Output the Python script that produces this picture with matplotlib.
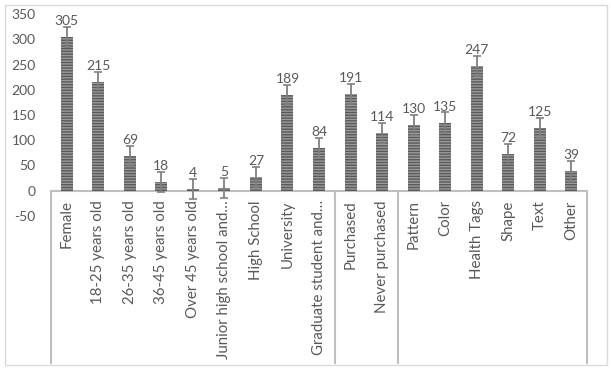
import matplotlib
matplotlib.use("Agg")
import matplotlib.pyplot as plt
import matplotlib.transforms as mtransforms
from matplotlib.patches import Rectangle

categories = ["Female", "18-25 years old", "26-35 years old", "36-45 years old",
              "Over 45 years old", "Junior high school and…", "High School",
              "University", "Graduate student and…", "Purchased", "Never purchased",
              "Pattern", "Color", "Health Tags", "Shape", "Text", "Other"]
values = [305, 215, 69, 18, 4, 5, 27, 189, 84, 191, 114, 130, 135, 247, 72, 125, 39]
errors = [20] * len(values)
group_sizes = [9, 2, 6]
yticks = [-50, 0, 50, 100, 150, 200, 250, 300, 350]

plt.rcParams['font.family'] = ['Lato', 'DejaVu Sans']
plt.rcParams['hatch.linewidth'] = 1.0
txt = '#595959'
line = '#bfbfbf'

fig = plt.figure(figsize=(6.11, 3.70), dpi=100)
W, H = 611, 370
left, right, top, bottom = 51, 587, 14, 216
ax = fig.add_axes([left / W, 1 - bottom / H, (right - left) / W, (bottom - top) / H])

x = list(range(len(values)))
ax.bar(x, values, width=0.38, color='#9a9a9a', edgecolor='#5a5a5a', linewidth=0,
       hatch='------', zorder=2)
ax.errorbar(x, values, yerr=errors, fmt='none', ecolor='#808080', elinewidth=1.3,
            capsize=3, capthick=1.2, zorder=3)
for xi, v in zip(x, values):
    ax.annotate(str(v), (xi, v), xytext=(0, 11.5), textcoords='offset points',
                ha='center', va='center', fontsize=10, color=txt, zorder=4)

ax.set_xlim(-0.5, len(values) - 0.5)
ax.set_ylim(-50, 350)
ax.set_yticks(yticks)
ax.set_yticklabels([str(t) for t in yticks], fontsize=10, color=txt)
ax.tick_params(axis='y', length=0, pad=11)
ax.set_xticks([])
for s in ax.spines.values():
    s.set_visible(False)

# zero axis line
ax.plot([-0.5, len(values) - 0.5], [0, 0], color=line, lw=1.5, zorder=1, clip_on=False)

# group dividers
trans = mtransforms.blended_transform_factory(ax.transData, fig.transFigure)
ybot = 1 - 363 / H
y0 = ax.transData.transform((0, 0))[1] / fig.bbox.height
bounds = [-0.5]
acc = -0.5
for g in group_sizes:
    acc += g
    bounds.append(acc)
for b in bounds:
    ax.plot([b, b], [y0, ybot], transform=trans, color=line, lw=1.5, clip_on=False)

# category labels
for xi, c in zip(x, categories):
    ax.text(xi, -19, c, rotation=90, ha='center', va='top', fontsize=10.8,
            color=txt, clip_on=False)

# outer border
fig.patches.append(Rectangle((5 / W, 1 - 365 / H), 602 / W, 360 / H,
                             transform=fig.transFigure, fill=False,
                             edgecolor='#d9d9d9', lw=1))

fig.savefig('out.png', dpi=100)
